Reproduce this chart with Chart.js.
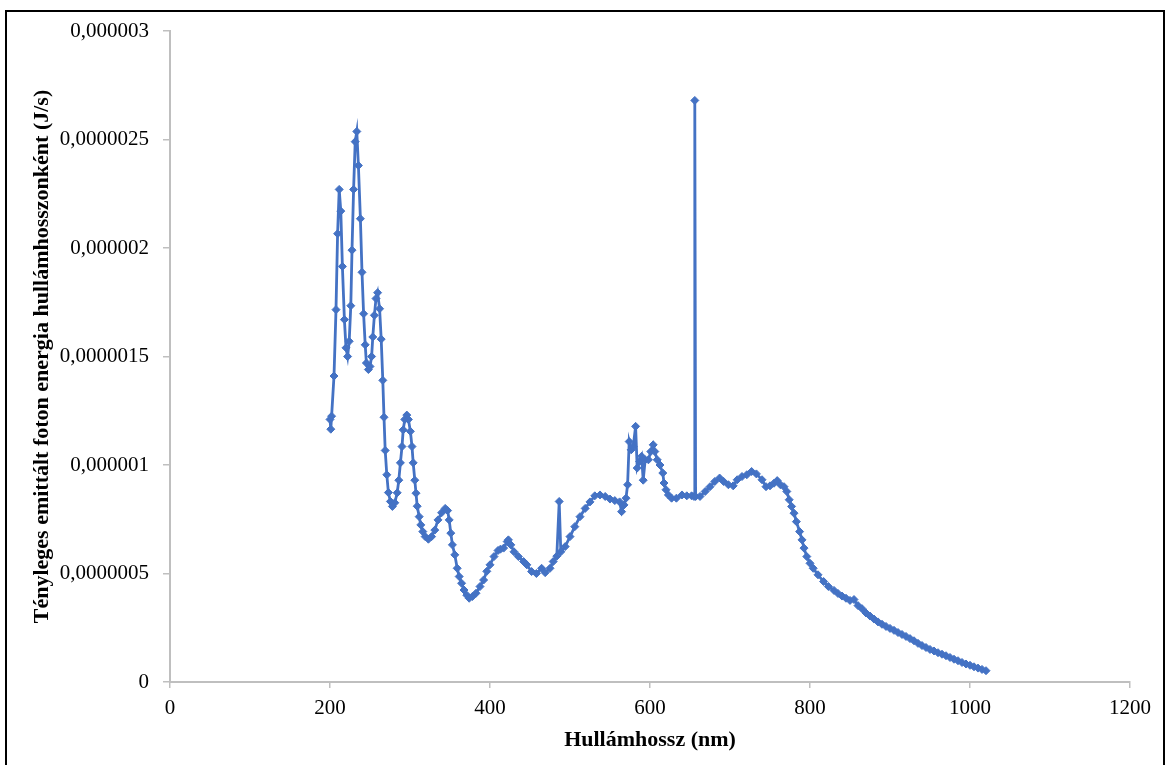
<!DOCTYPE html>
<html>
<head>
<meta charset="utf-8">
<title>Hullámhossz spektrum</title>
<script src="https://cdn.jsdelivr.net/npm/chart.js@4/dist/chart.umd.min.js"></script>
<style>
  html, body { margin: 0; padding: 0; background: #fff; overflow: hidden; }
  #wrap { position: relative; width: 1170px; height: 765px; }
  #frame {
    position: absolute; left: 5px; top: 10px; width: 1160px; height: 800px;
    border: 2px solid #000; box-sizing: border-box; pointer-events: none;
  }
  #chart { position: absolute; left: 0; top: 0; }
</style>
</head>
<body>
<div id="wrap">
  <canvas id="chart" width="1170" height="765"></canvas>
  <div id="frame"></div>
</div>
<script>
'use strict';

// wavelength (nm)
var wavelengths = [
    200, 201, 202, 205, 207.5, 209.5, 211.5, 213.5, 215.5, 218, 220, 222, 224, 226, 227.5, 229.5,
    231.5, 233.5, 235.5, 238, 240, 242, 244, 245.5, 248, 250, 252, 253.5, 255.5, 257.5, 259.5,
    262, 264, 266, 267.5, 269, 271, 273, 275.5, 278, 281, 284, 286, 288, 290, 291.5, 293.5, 296,
    298, 300.5, 302.5, 304, 306, 307.5, 309, 311.5, 313.5, 316, 319, 323, 327, 331, 335, 339.5,
    344, 347, 349, 351, 353, 356, 359, 361.5, 364.5, 367.5, 371, 374, 378, 382.5, 387.5, 392,
    396, 400, 405, 410, 413, 417, 421.5, 423, 426, 430, 435.5, 442, 446, 452, 458, 464.5, 469,
    475, 479, 483.5, 486.5, 488.5, 494, 500, 506, 512.5, 519, 525, 531, 537.5, 544, 550, 556,
    562, 564.5, 567.5, 570, 572, 574, 576.5, 579, 582, 584, 587, 589.5, 591.5, 594, 598, 601,
    604, 606, 609, 612.5, 616, 617.5, 620, 623, 627, 633, 640, 646, 652, 655, 656, 657, 662.5,
    669, 675, 681, 687, 692, 698, 704, 709, 715, 721, 727, 733, 740, 745, 750, 755, 759, 763,
    767.5, 771, 774, 777, 780, 783, 787, 790, 792.5, 796, 800, 804, 810, 817, 823, 830, 835,
    840, 845, 850, 855, 860, 865, 870, 875, 880, 885, 890, 895, 900, 905, 910, 915, 920, 925,
    930, 935, 940, 945, 950, 955, 960, 965, 970, 975, 980, 985, 990, 995, 1000, 1005, 1010,
    1015, 1020
];

// emitted photon energy, in units of 0,000001 J/s
var energyMicro = [
    1.21, 1.165, 1.225, 1.41, 1.716, 2.066, 2.27, 2.17, 1.915, 1.67, 1.54, 1.50, 1.57, 1.734, 1.99, 2.27,
    2.49, 2.537, 2.38, 2.135, 1.888, 1.697, 1.554, 1.47, 1.44, 1.454, 1.50, 1.59, 1.69, 1.767, 1.794,
    1.72, 1.58, 1.39, 1.22, 1.067, 0.955, 0.873, 0.832, 0.809, 0.826, 0.872, 0.93, 1.01, 1.085, 1.162, 1.21, 1.23,
    1.21, 1.155, 1.085, 1.01, 0.93, 0.87, 0.81, 0.762, 0.724, 0.693, 0.67, 0.658, 0.67, 0.70, 0.747, 0.78,
    0.80, 0.79, 0.747, 0.686, 0.632, 0.586, 0.524, 0.486, 0.455, 0.424, 0.40, 0.386, 0.394, 0.409, 0.44, 0.47,
    0.51, 0.54, 0.578, 0.606, 0.612, 0.617, 0.647, 0.655, 0.632, 0.60, 0.578, 0.555, 0.54, 0.509, 0.50, 0.524, 0.504,
    0.524, 0.555, 0.58, 0.832, 0.60, 0.624, 0.67, 0.716, 0.762, 0.80, 0.83, 0.858, 0.862, 0.855, 0.843, 0.836,
    0.83, 0.785, 0.816, 0.847, 0.909, 1.108, 1.07, 1.085, 1.178, 0.986, 1.016, 1.04, 0.93, 1.024, 1.024, 1.062,
    1.093, 1.062, 1.024, 1.0, 0.963, 0.917, 0.886, 0.862, 0.847, 0.847, 0.862, 0.858, 0.858, 0.855, 2.68, 0.855, 0.855,
    0.878, 0.90, 0.924, 0.94, 0.924, 0.909, 0.904, 0.932, 0.947, 0.955, 0.97, 0.959, 0.932, 0.90, 0.904, 0.916, 0.928, 0.909,
    0.90, 0.878, 0.84, 0.809, 0.778, 0.739, 0.693, 0.655, 0.617, 0.578, 0.547, 0.524, 0.494, 0.463, 0.44, 0.422, 0.408,
    0.396, 0.386, 0.376, 0.38, 0.352, 0.338, 0.318, 0.304, 0.29, 0.277, 0.266, 0.256, 0.247, 0.238, 0.228, 0.219, 0.21, 0.20,
    0.19, 0.178, 0.168, 0.159, 0.15, 0.143, 0.135, 0.128, 0.121, 0.113, 0.105, 0.098, 0.09, 0.083, 0.077, 0.07, 0.064,
    0.058, 0.052
];

var xTickLabels = ['0', '200', '400', '600', '800', '1000', '1200'];
var yTickLabels = ['0', '0,0000005', '0,000001', '0,0000015', '0,000002', '0,0000025', '0,000003'];

var lineColor = '#4472C4';
var axisColor = '#BFBFBF';
var serif = "'Liberation Serif', 'Times New Roman', serif";

var points = wavelengths.map(function (w, i) {
    return { x: w, y: energyMicro[i] };
});

var ctx = document.getElementById('chart').getContext('2d');

new Chart(ctx, {
    type: 'line',
    data: {
        datasets: [{
            data: points,
            borderColor: lineColor,
            backgroundColor: lineColor,
            borderWidth: 2.8,
            tension: 0,
            pointStyle: 'rectRot',
            pointRadius: 4,
            pointBorderWidth: 1,
            pointBorderColor: lineColor,
            pointBackgroundColor: lineColor
        }]
    },
    options: {
        responsive: false,
        animation: false,
        devicePixelRatio: 1,
        layout: { padding: { left: 0, top: 31, right: 40, bottom: 0 } },
        plugins: {
            legend: { display: false },
            tooltip: { enabled: false }
        },
        scales: {
            x: {
                type: 'linear',
                min: 0,
                max: 1200,
                afterFit: function (scale) { scale.height = 83; },
                grid: { drawOnChartArea: false, drawTicks: true, tickLength: 6, color: axisColor, lineWidth: 1.5 },
                border: { color: axisColor, width: 2 },
                ticks: {
                    stepSize: 200,
                    padding: 8,
                    color: '#000',
                    font: { family: serif, size: 21 },
                    maxRotation: 0,
                    callback: function (v) { return xTickLabels[Math.round(v / 200)]; }
                },
                title: {
                    display: true,
                    text: 'Hullámhossz (nm)',
                    color: '#000',
                    font: { family: serif, size: 22, weight: 'bold' },
                    padding: { top: 0, bottom: 11 }
                }
            },
            y: {
                min: 0,
                max: 3,
                afterFit: function (scale) { scale.width = 170; },
                grid: { drawOnChartArea: false, drawTicks: true, tickLength: 7, color: axisColor, lineWidth: 1.5 },
                border: { color: axisColor, width: 2 },
                ticks: {
                    stepSize: 0.5,
                    padding: 14,
                    color: '#000',
                    font: { family: serif, size: 21 },
                    callback: function (v) { return yTickLabels[Math.round(v / 0.5)]; }
                },
                title: {
                    display: true,
                    text: 'Tényleges emittált foton energia hullámhosszonként (J/s)',
                    color: '#000',
                    font: { family: serif, size: 22, weight: 'bold' },
                    padding: { top: 29, bottom: 0 }
                }
            }
        }
    }
});
</script>
</body>
</html>
